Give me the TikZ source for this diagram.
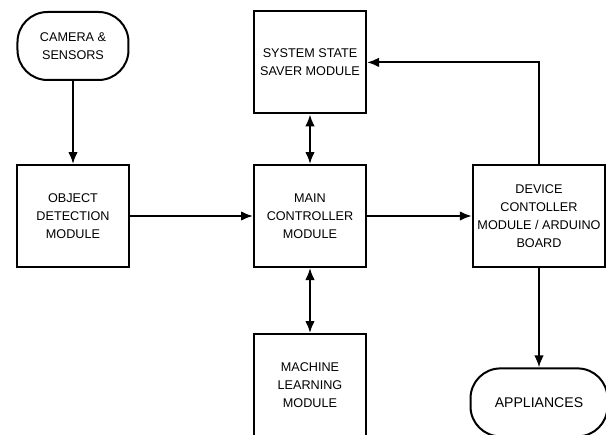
\documentclass[tikz,border=0pt]{standalone}
\usepackage{fontspec}
\setmainfont{Liberation Sans}
\usetikzlibrary{arrows.meta}

\begin{document}
\begin{tikzpicture}[auto,font=\fontsize{9}{12.8}\selectfont,
    line/.style={draw, -{Latex[length=3mm,width=2.4mm]}, line width=0.5mm},
    both/.style={draw, {Latex[length=3mm,width=2.4mm]}-{Latex[length=3mm,width=2.4mm]}, line width=0.5mm},
    module/.style={draw, line width=0.5mm, align=center, minimum width=28mm, minimum height=25.5mm},
    terminal/.style={draw, line width=0.5mm, align=center, rounded corners=7.5mm, minimum height=17mm},
    ]
    \clip (-18.25mm,54mm) rectangle (133.25mm,-54.5mm);
    % Place nodes
    \node [module] (od) {OBJECT\\DETECTION\\MODULE};
    \node [terminal, minimum width=27.75mm, above of=od, yshift=32.5mm] (cam) {CAMERA \&\\SENSORS};
    \node [module, right of=od, xshift=49.25mm] (main) {MAIN\\CONTROLLER\\MODULE};
    \node [module, above of=main, yshift=28.4mm] (sss) {SYSTEM STATE\\SAVER MODULE};
    \node [module, below of=main, yshift=-32.25mm] (ml) {MACHINE\\LEARNING\\MODULE};
    \node [module, minimum width=32.5mm, right of=main, xshift=47.25mm] (dev) {DEVICE\\CONTOLLER\\MODULE / ARDUINO\\BOARD};
    \node [terminal, minimum width=34.25mm, font=\fontsize{10}{12}\selectfont, below of=dev, yshift=-36.6mm] (app) {APPLIANCES};

    % Draw edges
    \path [line] (cam) -- (od);
    \path [line] (od) -- (main);
    \path [line] (main) -- (dev);
    \path [both] (sss) -- (main);
    \path [both] (main) -- (ml);
    \path [line] (dev) -- (app);
    \draw [line] (dev.north) |- (sss.east);
\end{tikzpicture}
\end{document}
